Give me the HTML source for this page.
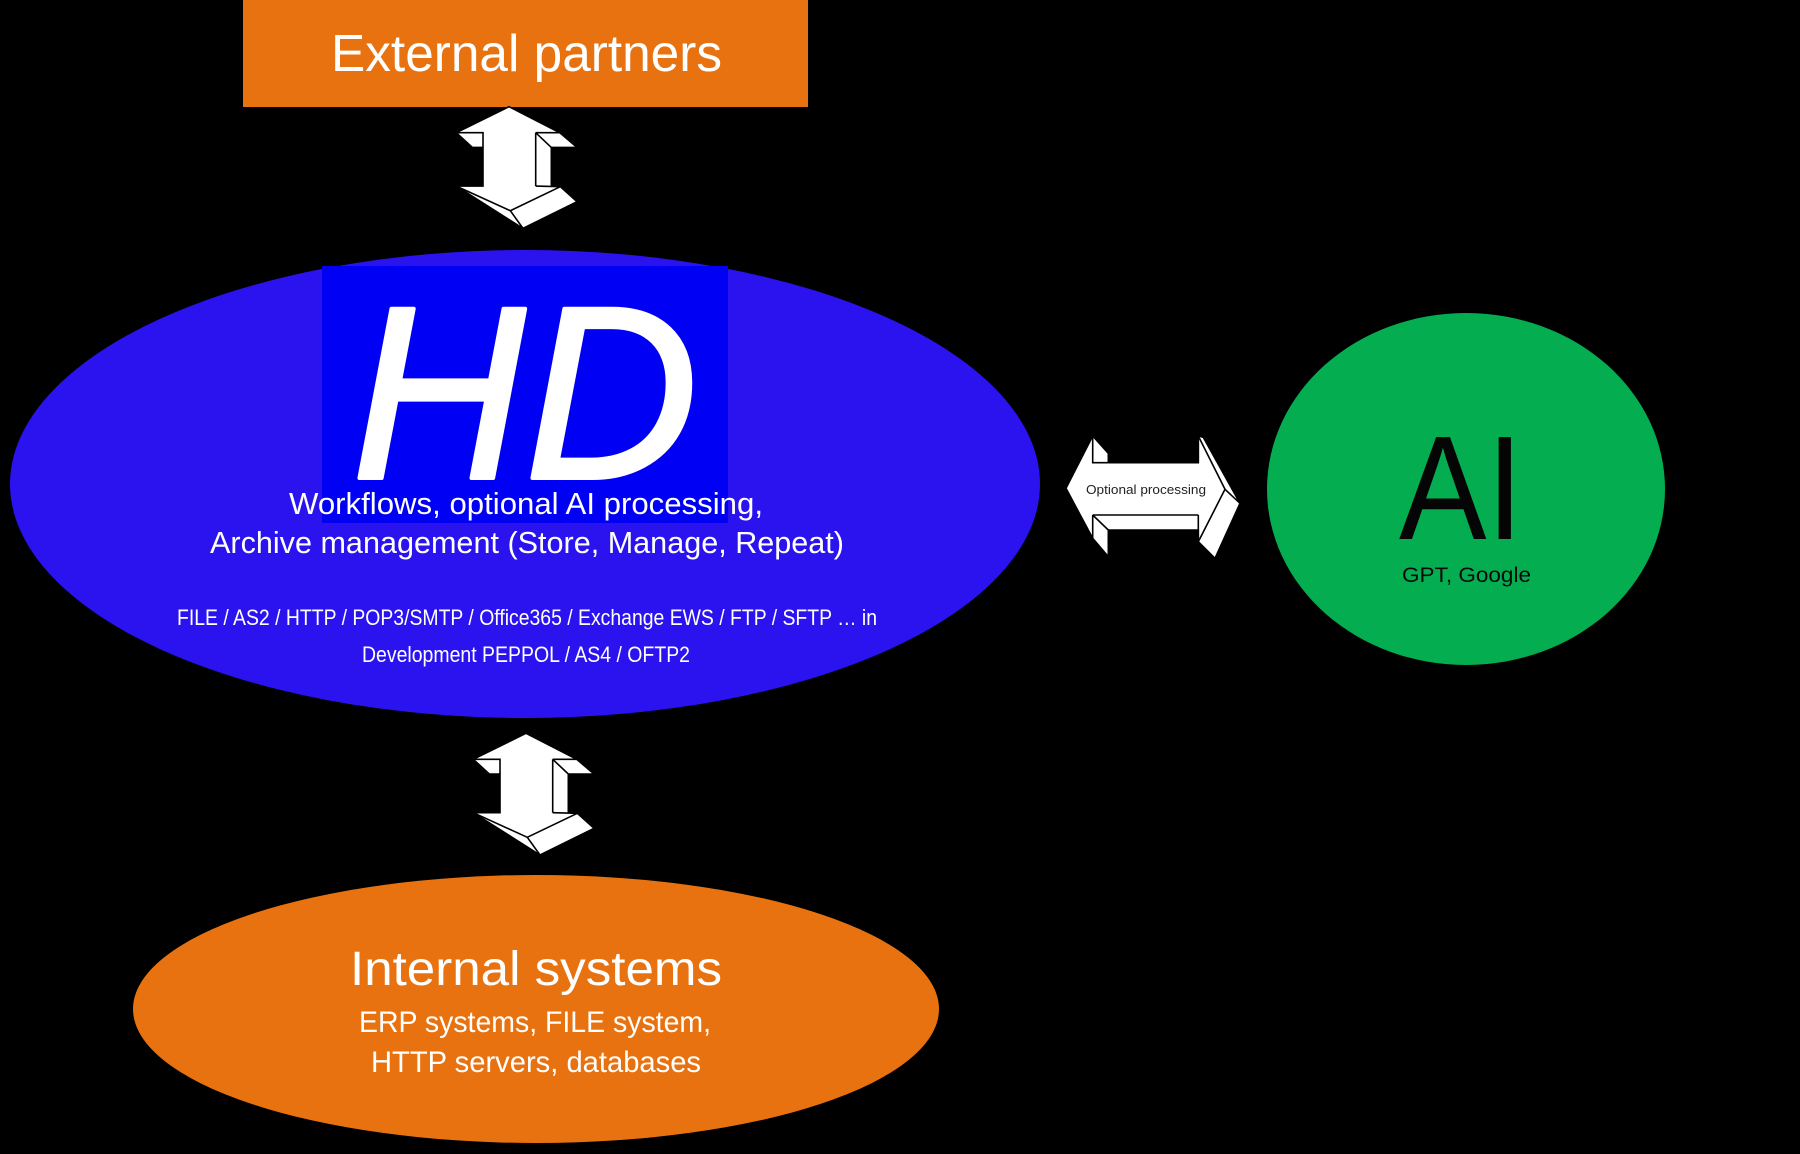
<!DOCTYPE html>
<html><head><meta charset="utf-8"><style>
html,body{margin:0;padding:0;background:#000;}
svg{display:block;}
text{font-family:"Liberation Sans",sans-serif;}
</style></head><body>
<svg width="1800" height="1154" viewBox="0 0 1800 1154" xmlns="http://www.w3.org/2000/svg">
<rect x="0" y="0" width="1800" height="1154" fill="#000"/>

<!-- External partners -->
<rect x="243" y="0" width="565" height="107" fill="#e8720f"/>
<text x="331" y="71" font-size="52" fill="#fff" textLength="391" lengthAdjust="spacingAndGlyphs">External partners</text>

<!-- 3D arrow definition (bottom arrow coordinates) -->
<defs>
<g id="varrow">
  <polygon points="526,733.3 576.7,759.3 594,774 568.3,774 568.3,811.7 577.3,813.3 594,828.3 540,855 473.3,812.7 500,812.7 500,774 489.3,774 473.3,759.3" fill="#fff" stroke="#000" stroke-width="1.6" stroke-linejoin="miter"/>
  <g fill="none" stroke="#000" stroke-width="1.6">
    <polyline points="473.3,759.3 500,759.3 500,774"/>
    <line x1="552.7" y1="759.3" x2="552.7" y2="812.7"/>
    <line x1="552.7" y1="759.3" x2="568.3" y2="774"/>
    <line x1="552.7" y1="759.3" x2="576.7" y2="759.3"/>
    <line x1="552.7" y1="812.7" x2="577.3" y2="813.3"/>
    <polyline points="473.3,812.7 527.3,837.3 577.3,813.3"/>
    <line x1="527.3" y1="837.3" x2="540" y2="855"/>
  </g>
</g>
</defs>

<use href="#varrow" transform="translate(-17,-626.6)"/>
<use href="#varrow"/>

<!-- Blue ellipse -->
<ellipse cx="525" cy="484" rx="515" ry="234" fill="#2b13f0"/>
<rect x="322" y="266" width="406" height="257" fill="#0000f4"/>
<text x="352" y="478" font-size="246" font-style="italic" fill="#fff" stroke="#fff" stroke-width="4" stroke-linejoin="round" textLength="346" lengthAdjust="spacingAndGlyphs">HD</text>

<text x="289" y="514" font-size="31" fill="#fff" textLength="474" lengthAdjust="spacingAndGlyphs">Workflows, optional AI processing,</text>
<text x="210" y="553" font-size="31" fill="#fff" textLength="634" lengthAdjust="spacingAndGlyphs">Archive management (Store, Manage, Repeat)</text>
<text x="177" y="625" font-size="22" fill="#fff" textLength="700" lengthAdjust="spacingAndGlyphs">FILE / AS2 / HTTP / POP3/SMTP / Office365 / Exchange EWS / FTP / SFTP … in</text>
<text x="362" y="662" font-size="22" fill="#fff" textLength="328" lengthAdjust="spacingAndGlyphs">Development PEPPOL / AS4 / OFTP2</text>

<!-- Horizontal 3D arrow -->
<polygon points="1066,488.3 1092.7,436 1108.3,453.3 1108.3,462.7 1198.3,462.7 1198.3,436 1203.3,437.3 1240,503.3 1215,558.3 1198.3,541.7 1198.3,530 1108.3,530 1108.3,556.7 1092.7,538.3" fill="#fff" stroke="#000" stroke-width="1.6"/>
<g fill="none" stroke="#000" stroke-width="1.6">
  <polyline points="1092.7,436 1092.7,462.7 1108.3,462.7"/>
  <line x1="1092.7" y1="515" x2="1198.3" y2="515"/>
  <line x1="1092.7" y1="515" x2="1092.7" y2="538.3"/>
  <line x1="1092.7" y1="515" x2="1108.3" y2="530"/>
  <polyline points="1198.3,436 1225,489.3 1198.3,541.7"/>
  <line x1="1225" y1="489.3" x2="1240" y2="503.3"/>
  <line x1="1198.3" y1="436" x2="1198.3" y2="462.7"/>
  <line x1="1198.3" y1="515" x2="1198.3" y2="541.7"/>
</g>
<text x="1086" y="494" font-size="13" fill="#222" textLength="120" lengthAdjust="spacingAndGlyphs">Optional processing</text>

<!-- Green circle -->
<ellipse cx="1466" cy="489" rx="199" ry="176" fill="#05ad51"/>
<text x="1399" y="539" font-size="148" fill="#050505" textLength="124" lengthAdjust="spacingAndGlyphs">AI</text>
<text x="1402" y="582" font-size="21" fill="#0a0a0a" textLength="129" lengthAdjust="spacingAndGlyphs">GPT, Google</text>

<!-- Orange ellipse -->
<ellipse cx="536" cy="1009" rx="403" ry="134" fill="#e8720f"/>
<text x="350" y="985" font-size="48" fill="#fff" textLength="372" lengthAdjust="spacingAndGlyphs">Internal systems</text>
<text x="359" y="1032" font-size="30" fill="#fff" textLength="352" lengthAdjust="spacingAndGlyphs">ERP systems, FILE system,</text>
<text x="371" y="1072" font-size="30" fill="#fff" textLength="330" lengthAdjust="spacingAndGlyphs">HTTP servers, databases</text>
</svg>
</body></html>
